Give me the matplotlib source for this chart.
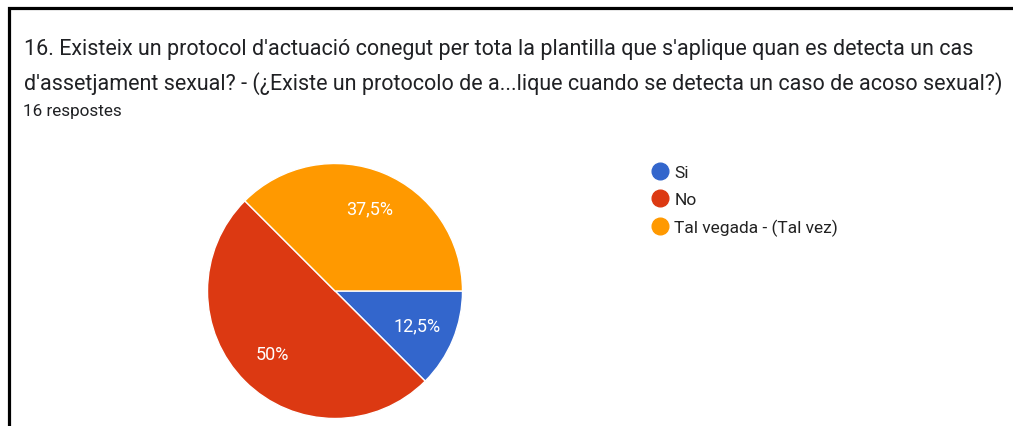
import matplotlib.pyplot as plt
from matplotlib.lines import Line2D

plt.rcParams['font.family'] = ['Roboto', 'DejaVu Sans']

# Data
labels = ['Si', 'No', 'Tal vegada - (Tal vez)']
counts = [2, 8, 6]
pct_labels = ['12,5%', '50%', '37,5%']
colors = ['#3366cc', '#dc3912', '#ff9900']

title_1 = "16. Existeix un protocol d'actuació conegut per tota la plantilla que s'aplique quan es detecta un cas"
title_2 = "d'assetjament sexual? - (¿Existe un protocolo de a...lique cuando se detecta un caso de acoso sexual?)"
subtitle = "16 respostes"

W, H = 1013, 427
fig = plt.figure(figsize=(W / 100, H / 100), dpi=100)

# screenshot border (top and left only)
fig.add_artist(Line2D([9 / W, 9 / W, 1], [0, 1 - 9 / H, 1 - 9 / H], color='black',
                      lw=2.3, solid_joinstyle='miter'))

# title texts
fig.text(24 / W, 1 - 55 / H, title_1, fontsize=15.5, color='#202124', va='baseline')
fig.text(24 / W, 1 - 90 / H, title_2, fontsize=15.5, color='#202124', va='baseline')
fig.text(23 / W, 1 - 116 / H, subtitle, fontsize=12.3, color='#202124', va='baseline')

# pie
r = 127.5
cx, cy = 335, 292
ax = fig.add_axes([(cx - r) / W, (H - cy - r) / H, 2 * r / W, 2 * r / H])
k = iter(pct_labels)
wedges, texts, autotexts = ax.pie(
    counts, colors=colors, startangle=0, counterclock=False,
    autopct=lambda p: next(k), pctdistance=0.70,
    wedgeprops=dict(edgecolor='white', linewidth=1),
    textprops=dict(color='white', fontsize=13))
ax.set_xlim(-1, 1)
ax.set_ylim(-1, 1)
ax.axis('off')

# legend
handles = [Line2D([], [], marker='o', linestyle='', markersize=12,
                  markerfacecolor=c, markeredgecolor=c) for c in colors]
fig.legend(handles, labels, loc='upper left', bbox_to_anchor=(651 / W, 1 - 166 / H),
           frameon=False, fontsize=12.5, labelcolor='#222222',
           handletextpad=0.35, labelspacing=0.68, borderaxespad=0, borderpad=0,
           handlelength=1.0)

fig.savefig('out.png', dpi=100, facecolor='white')
